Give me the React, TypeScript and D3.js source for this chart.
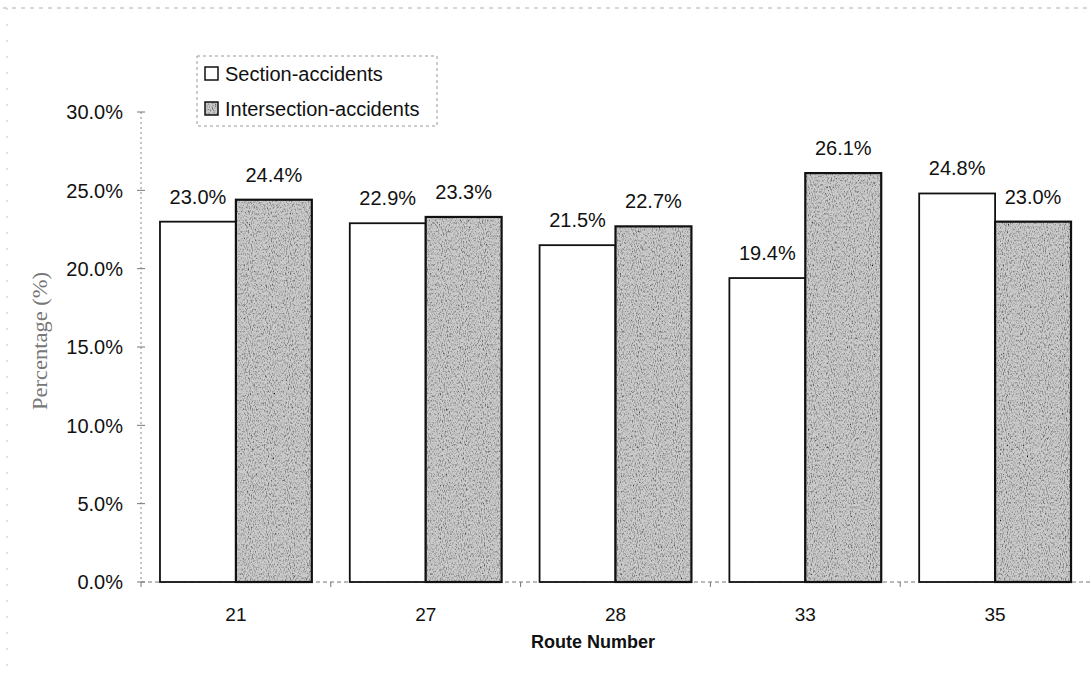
import React from "react";
import * as d3 from "d3";

const routes = ["21", "27", "28", "33", "35"];
const seriesNames = ["Section-accidents", "Intersection-accidents"];
const sectionValues = [23.0, 22.9, 21.5, 19.4, 24.8];
const intersectionValues = [24.4, 23.3, 22.7, 26.1, 23.0];
const yTicks = [0, 5, 10, 15, 20, 25, 30];

const W = 1091;
const H = 680;
const AX_LEFT = 141;
const AX_RIGHT = 1090;
const Y0 = 582;
const Y30 = 112;
const FONT = "'Liberation Sans', Arial, Helvetica, sans-serif";

export default function App() {
  const x = d3.scaleBand<string>().domain(routes).range([AX_LEFT, AX_RIGHT]).paddingInner(0.2).paddingOuter(0.1);
  const x1 = d3.scaleBand<string>().domain(seriesNames).range([0, x.bandwidth()]).padding(0);
  const y = d3.scaleLinear().domain([0, 30]).range([Y0, Y30]);
  const fmt = (v: number) => d3.format(".1f")(v) + "%";
  const step = x.step();

  const rows = routes.map((r, i) => ({ r, vals: [sectionValues[i], intersectionValues[i]] }));

  return (
    <svg width={W} height={H} style={{ position: "absolute", left: 0, top: 0, background: "#fff" }} fontFamily={FONT}>
      <defs>
        <filter id="grain" x="0" y="0" width="1" height="1" filterUnits="objectBoundingBox">
          <feTurbulence type="fractalNoise" baseFrequency="0.95 0.45" numOctaves="2" seed="7" result="n" />
          <feColorMatrix in="n" type="matrix" values="0 0 0 0 0  0 0 0 0 0  0 0 0 0 0  2.2 0 0 0 -1.0" result="dark" />
          <feComposite in="dark" in2="SourceGraphic" operator="in" result="d2" />
          <feMerge>
            <feMergeNode in="SourceGraphic" />
            <feMergeNode in="d2" />
          </feMerge>
        </filter>
      </defs>

      {/* faint scan border */}
      <line x1={3} x2={W} y1={8} y2={8} stroke="#b0b0b0" strokeWidth={1} strokeDasharray="4,5" />
      <line x1={7} x2={7} y1={8} y2={H} stroke="#c0c0c0" strokeWidth={1} strokeDasharray="2,14" />

      {/* y axis */}
      <line x1={AX_LEFT} x2={AX_LEFT} y1={y(30)} y2={Y0} stroke="#888" strokeWidth={1} strokeDasharray="2,3" />
      {yTicks.map((t) => (
        <g key={t}>
          <line x1={AX_LEFT - 4} x2={AX_LEFT + 4} y1={y(t)} y2={y(t)} stroke="#777" strokeWidth={1} />
          <text x={123} y={y(t)} dy="0.36em" textAnchor="end" fontSize={20} fill="#111">
            {fmt(t)}
          </text>
        </g>
      ))}

      {/* x axis */}
      <line x1={AX_LEFT} x2={AX_RIGHT} y1={Y0} y2={Y0} stroke="#777" strokeWidth={1} strokeDasharray="4,3" />
      {routes.map((r) => (
        <line key={"xt" + r} x1={(x(r) as number) - step * 0.1} x2={(x(r) as number) - step * 0.1} y1={Y0} y2={Y0 + 5} stroke="#777" strokeWidth={1} />
      ))}

      {/* bars */}
      {rows.map(({ r, vals }) => (
        <g key={r} transform={`translate(${x(r)},0)`}>
          {vals.map((v, j) => {
            const bx = x1(seriesNames[j]) as number;
            const bw = x1.bandwidth();
            return (
              <g key={j}>
                {j === 1 ? (
                  <rect x={bx} y={y(v)} width={bw} height={Y0 - y(v)} fill="#cbcbcb" filter="url(#grain)" />
                ) : (
                  <rect x={bx} y={y(v)} width={bw} height={Y0 - y(v)} fill="#fff" />
                )}
                <rect x={bx} y={y(v)} width={bw} height={Y0 - y(v)} fill="none" stroke="#111" strokeWidth={j === 1 ? 2.2 : 1.8} />
                <text x={bx + bw / 2} y={y(v) - 18} textAnchor="middle" fontSize={20} fill="#111">
                  {fmt(v)}
                </text>
              </g>
            );
          })}
        </g>
      ))}

      {/* x tick labels */}
      {routes.map((r) => (
        <text key={"xl" + r} x={(x(r) as number) + x.bandwidth() / 2} y={621} textAnchor="middle" fontSize={19} fill="#111">
          {r}
        </text>
      ))}
      <text x={593} y={648} textAnchor="middle" fontSize={18} fontWeight="bold" fill="#111">
        Route Number
      </text>

      {/* y axis title */}
      <text
        transform={`translate(47,341) rotate(-90)`}
        textAnchor="middle"
        fontFamily="'Liberation Serif', 'DejaVu Serif', serif"
        fontSize={20}
        fill="#777"
        textLength={138}
        lengthAdjust="spacingAndGlyphs"
      >
        Percentage (%)
      </text>

      {/* legend */}
      <rect x={197} y={56} width={240} height={70} fill="#fff" stroke="#999" strokeWidth={1} strokeDasharray="3,3" />
      {seriesNames.map((s, i) => (
        <g key={s} transform={`translate(205,${67 + i * 35})`}>
          {i === 1 ? (
            <rect x={0} y={0} width={13} height={13} fill="#cbcbcb" filter="url(#grain)" />
          ) : (
            <rect x={0} y={0} width={13} height={13} fill="#fff" />
          )}
          <rect x={0} y={0} width={13} height={13} fill="none" stroke="#111" strokeWidth={1.5} />
          <text x={20} y={6.5} dy="0.36em" fontSize={20} fill="#111">
            {s}
          </text>
        </g>
      ))}
    </svg>
  );
}
